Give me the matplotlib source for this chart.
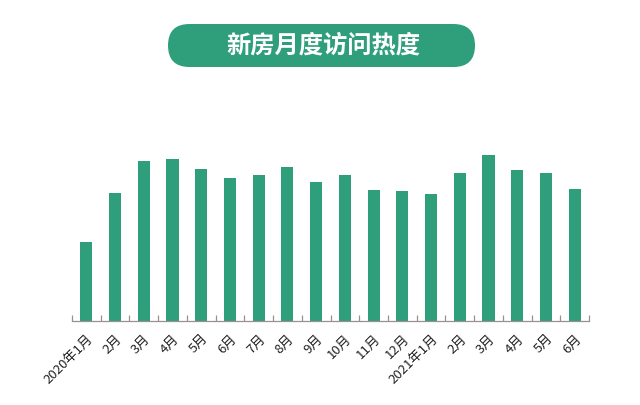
import matplotlib
matplotlib.use("Agg")
from matplotlib import pyplot as plt
from matplotlib.patches import FancyBboxPatch
import numpy as np

plt.rcParams["font.family"] = ["Noto Sans CJK SC", "DejaVu Sans"]

TITLE = "新房月度访问热度"
MONTH_LABELS = ["2020年1月", "2月", "3月", "4月", "5月", "6月", "7月", "8月", "9月",
                "10月", "11月", "12月", "2021年1月", "2月", "3月", "4月", "5月", "6月"]
# relative visit heat
VISIT_HEAT = [79, 128, 160, 162, 152, 143, 146, 154, 139,
              146, 131, 130, 127, 148, 166, 151, 148, 132]

GREEN = "#2f9e7a"
AXIS_GRAY = "#9a9090"

W, H = 640, 405
fig = plt.figure(figsize=(W / 100, H / 100), dpi=100)

# title pill, drawn on a pixel-scaled overlay
overlay = fig.add_axes([0, 0, 1, 1])
overlay.set_xlim(0, W)
overlay.set_ylim(H, 0)
overlay.axis("off")
pill = FancyBboxPatch((168, 24), 307, 43,
                      boxstyle="round,pad=0,rounding_size=21.5",
                      facecolor=GREEN, edgecolor="none")
overlay.add_patch(pill)
overlay.text(323, 46, TITLE, color="white", fontsize=17.5, fontweight="heavy",
             ha="center", va="center")

# bar chart
ax = fig.add_axes([72 / W, 1 - 321 / H, (589 - 72) / W, (321 - 80) / H])
x = np.arange(len(VISIT_HEAT))
ax.bar(x, VISIT_HEAT, width=0.42, color=GREEN)
ax.set_xlim(-0.5, len(VISIT_HEAT) - 0.5)
ax.set_ylim(0, 241)

for side in ["top", "right", "left"]:
    ax.spines[side].set_visible(False)
ax.spines["bottom"].set_color(AXIS_GRAY)
ax.spines["bottom"].set_linewidth(0.9)
ax.set_yticks([])

ax.set_xticks(x)
ax.set_xticklabels(MONTH_LABELS, rotation=45, ha="right", va="top",
                   rotation_mode="anchor", fontsize=9.5, color="#222222")
ax.tick_params(axis="x", which="major", length=0, pad=8)
ax.set_xticks(np.arange(-0.5, len(VISIT_HEAT), 1.0), minor=True)
ax.tick_params(axis="x", which="minor", direction="in", length=4,
               color=AXIS_GRAY, width=0.9)
ax.patch.set_alpha(0)

fig.savefig("out.png", dpi=100)
